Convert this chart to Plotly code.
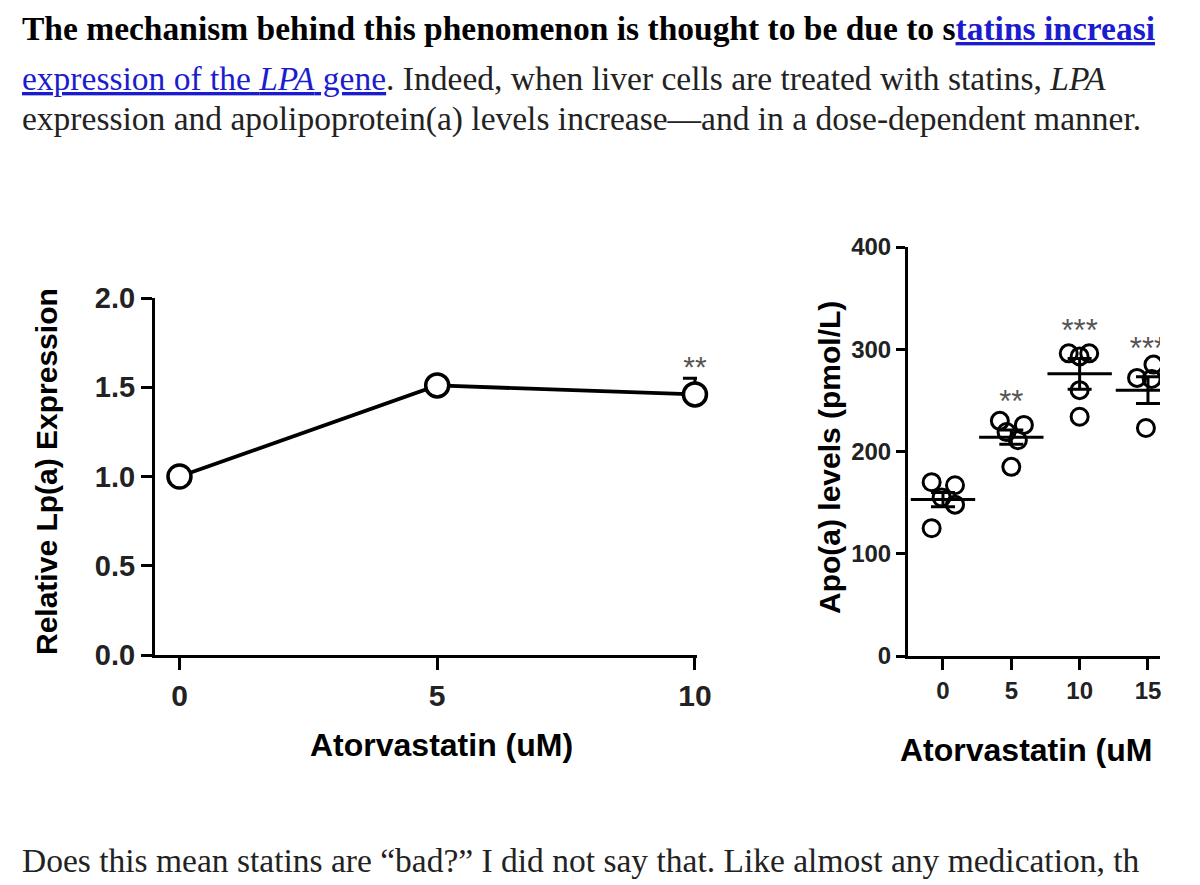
import plotly.graph_objects as go

# Left panel: relative Lp(a) expression (mean, SEM) by atorvastatin dose
dose_left = [0, 5, 10]
lpa_expr = [1.0, 1.51, 1.46]
lpa_sem = [0.0, 0.0, 0.09]
sig_left = ["", "", "**"]

# Right panel: Apo(a) levels, individual wells per dose
dose_right = [0, 5, 10, 15]
apo_points = [
    [170, 167, 155, 148, 125],
    [230, 226, 219, 211, 185],
    [296, 296, 293, 260, 234],
    [272, 285, 271, 223],
]
apo_jitter = [
    [-0.83, 0.88, -0.1, 0.88, -0.83],
    [-0.84, 0.92, -0.35, 0.48, 0.0],
    [-0.8, 0.7, 0.0, 0.0, 0.0],
    [-0.8, 0.4, 0.27, -0.15],
]
apo_mean = [153, 214, 276, 260]
apo_sem = [7, 7, 15, 13]
sig_right = ["", "**", "***", "***"]

W, H = 1200, 885
OFFSET = 8  # the page body adds an 8px margin around the figure
FONT_CHART = "Liberation Sans"
FONT_TEXT = "Liberation Serif"
LINK = "#1c1ccf"


def px_x(p):
    return (p - OFFSET) / W


def px_y(p):
    return 1 - (p - OFFSET) / H


fig = go.Figure()

# ---- left panel ----
fig.add_trace(go.Scatter(
    x=dose_left, y=lpa_expr, mode="lines+markers",
    line=dict(color="black", width=3.8),
    marker=dict(symbol="circle", size=23, color="white",
                line=dict(color="black", width=3.5)),
    error_y=dict(type="data", symmetric=False, array=lpa_sem, arrayminus=[0, 0, 0],
                 color="black", thickness=3, width=12),
    cliponaxis=False, showlegend=False, xaxis="x", yaxis="y",
))
fig.add_trace(go.Scatter(
    x=dose_left, y=[m + s + 0.05 for m, s in zip(lpa_expr, lpa_sem)],
    mode="text", text=sig_left, textfont=dict(family=FONT_CHART, size=30, color="#555"),
    cliponaxis=False, showlegend=False, xaxis="x", yaxis="y",
))

# ---- right panel ----
for d, pts, jit in zip(dose_right, apo_points, apo_jitter):
    fig.add_trace(go.Scatter(
        x=[d + j for j in jit], y=pts, mode="markers",
        marker=dict(symbol="circle-open", size=17, color="black",
                    line=dict(color="black", width=3)),
        cliponaxis=True, showlegend=False, xaxis="x2", yaxis="y2",
    ))
fig.add_trace(go.Scatter(
    x=dose_right, y=apo_mean, mode="markers",
    marker=dict(symbol="line-ew", size=46, line=dict(color="black", width=3)),
    error_y=dict(type="data", array=apo_sem, color="black", thickness=3, width=12),
    cliponaxis=True, showlegend=False, xaxis="x2", yaxis="y2",
))
fig.add_trace(go.Scatter(
    x=dose_right, y=[m + s + 25 for m, s in zip(apo_mean, apo_sem)],
    mode="text", text=sig_right, textfont=dict(family=FONT_CHART, size=31, color="#555"),
    cliponaxis=True, showlegend=False, xaxis="x2", yaxis="y2",
))

axis_common = dict(
    showline=True, linecolor="black", linewidth=3, ticks="outside",
    tickcolor="black", tickwidth=3, showgrid=False, zeroline=False,
)

fig.update_layout(
    width=W, height=H, margin=dict(l=0, r=0, t=0, b=0, autoexpand=False),
    paper_bgcolor="white", plot_bgcolor="white",
    xaxis=dict(domain=[px_x(155), px_x(697)], range=[-0.475, 10.04],
               tickvals=dose_left, ticklen=12, anchor="y",
               tickfont=dict(family=FONT_CHART, size=30, color="#222", weight="bold"),
               **axis_common),
    yaxis=dict(domain=[px_y(655), px_y(298)], range=[0, 2],
               tickvals=[0, 0.5, 1.0, 1.5, 2.0], tickformat=".1f", ticklen=11, anchor="x",
               tickfont=dict(family=FONT_CHART, size=29, color="#222", weight="bold"),
               **axis_common),
    xaxis2=dict(domain=[px_x(908), px_x(1160)], range=[-2.56, 15.88],
                tickvals=dose_right, ticklen=11, anchor="y2",
                tickfont=dict(family=FONT_CHART, size=24, color="#222", weight="bold"),
                **axis_common),
    yaxis2=dict(domain=[px_y(656), px_y(247)], range=[0, 400],
                tickvals=[0, 100, 200, 300, 400], ticklen=9, anchor="x2",
                tickfont=dict(family=FONT_CHART, size=24, color="#222", weight="bold"),
                **axis_common),
)

# axis titles as annotations (exact placement, right one cut off at the page edge)
titles = [
    ("Relative Lp(a) Expression", 46, 472, -90, 30, "center"),
    ("Atorvastatin (uM)", 441, 745, 0, 32, "center"),
    ("Apo(a) levels (pmol/L)", 829, 458, -90, 30, "center"),
    ("Atorvastatin (uM", 898, 750, 0, 32, "left"),
]
for txt, x, y, ang, size, anchor in titles:
    fig.add_annotation(
        text="<b>" + txt + "</b>", x=px_x(x), y=px_y(y), xref="paper", yref="paper",
        xanchor=anchor, yanchor="middle", textangle=ang, showarrow=False,
        font=dict(family=FONT_CHART, size=size, color="black"),
    )

# surrounding article text
paragraph = [
    ("<b>The mechanism behind this phenomenon is thought to be due to s"
     "<span style='color:" + LINK + "'><u>tatins increasi</u></span></b>", 28, "black"),
    ("<span style='color:" + LINK + "'><u>expression of the <i>LPA</i> gene</u></span>"
     ". Indeed, when liver cells are treated with statins, <i>LPA</i>", 78, "#222"),
    ("expression and apolipoprotein(a) levels increase\u2014and in a dose-dependent manner.", 119, "#222"),
    ("Does this mean statins are \u201cbad?\u201d I did not say that. "
     "Like almost any medication, th", 860, "#222"),
]
for txt, y, col in paragraph:
    fig.add_annotation(
        text=txt, x=px_x(20), y=px_y(y), xref="paper", yref="paper",
        xanchor="left", yanchor="middle", showarrow=False,
        font=dict(family=FONT_TEXT, size=33.5, color=col),
    )

fig.write_html("out.html")
